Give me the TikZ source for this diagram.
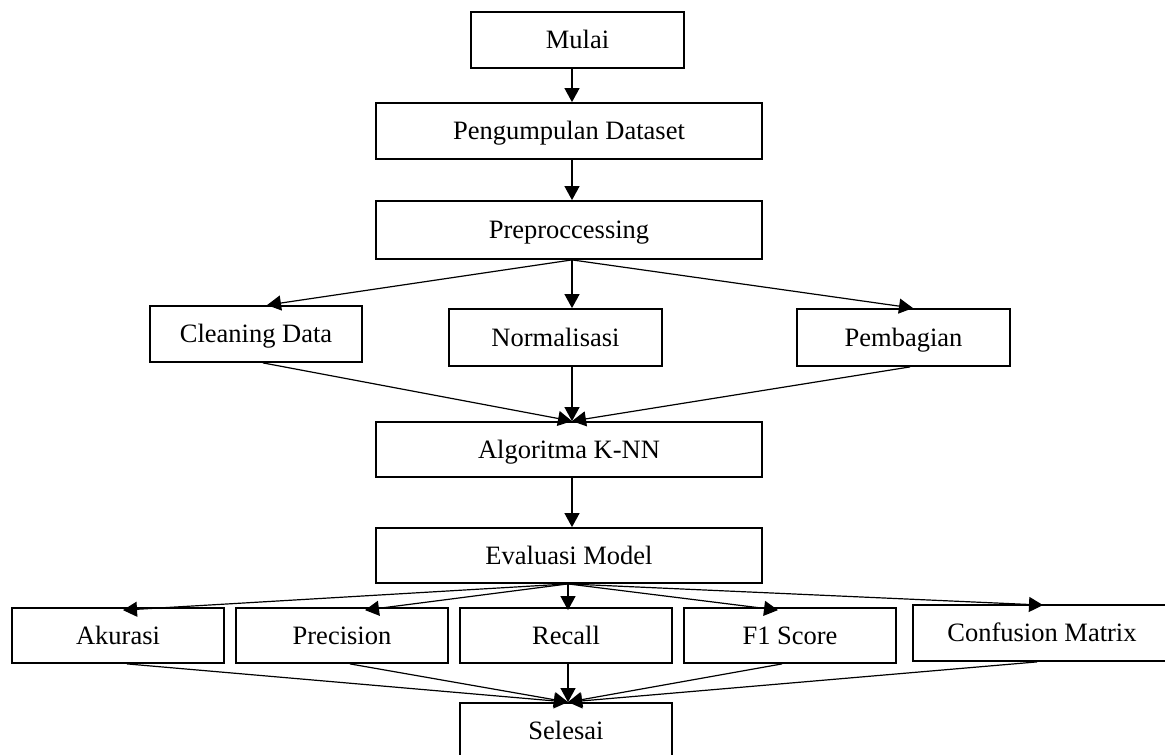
\documentclass[tikz,border=0pt]{standalone}
\usepackage{fontspec}
\setmainfont{Liberation Serif}
\usetikzlibrary{arrows.meta}
\begin{document}
\begin{tikzpicture}[x=1pt,y=-1pt,
  box/.style={draw,line width=1.8pt,rectangle,inner sep=0pt,text height=23pt,text depth=6pt,font=\fontsize{26.5}{31}\selectfont},
  arr/.style={line width=1.2pt,-{Triangle[length=14pt,width=15pt]}}]
\useasboundingbox (0,0) rectangle (1165,755);
\begin{scope}
\clip (0,0) rectangle (1165,755);
\node[box,minimum width=213pt,minimum height=56pt] (mulai) at (577.5,40) {Mulai};
\node[box,minimum width=386pt,minimum height=56pt] (peng) at (569,131) {Pengumpulan Dataset};
\node[box,minimum width=386pt,minimum height=58pt] (prep) at (569,230) {Preproccessing};
\node[box,minimum width=212pt,minimum height=56pt] (clean) at (256,334) {Cleaning Data};
\node[box,minimum width=213pt,minimum height=57pt] (norm) at (555.5,337.5) {Normalisasi};
\node[box,minimum width=213pt,minimum height=57pt] (pemb) at (903.5,337.5) {Pembagian};
\node[box,minimum width=386pt,minimum height=55pt] (algo) at (569,449.5) {Algoritma K-NN};
\node[box,minimum width=386pt,minimum height=55pt] (eval) at (569,555.5) {Evaluasi Model};
\node[box,minimum width=212pt,minimum height=55pt] (akur) at (118,635.5) {Akurasi};
\node[box,minimum width=212pt,minimum height=55pt] (prec) at (342,635.5) {Precision};
\node[box,minimum width=212pt,minimum height=55pt] (rec) at (566,635.5) {Recall};
\node[box,minimum width=212pt,minimum height=55pt] (f1) at (790,635.5) {F1 Score};
\node[box,minimum width=258pt,minimum height=56pt] (conf) at (1042,633) {Confusion Matrix};
\node[box,minimum width=212pt,minimum height=56pt] (sel) at (566,731) {Selesai};

\draw[arr] ([xshift=-5.5pt]mulai.south) -- ([xshift=3pt]peng.north);
\draw[arr] ([xshift=3pt]peng.south) -- ([xshift=3pt]prep.north);
\draw[arr] ([xshift=3pt]prep.south) -- ([xshift=11pt]clean.north);
\draw[arr] ([xshift=3pt]prep.south) -- ([xshift=16.5pt]norm.north);
\draw[arr] ([xshift=3pt]prep.south) -- ([xshift=9.5pt]pemb.north);
\draw[arr] ([xshift=7pt]clean.south) -- ([xshift=3pt]algo.north);
\draw[arr] ([xshift=16.5pt]norm.south) -- ([xshift=3pt]algo.north);
\draw[arr] ([xshift=6.5pt]pemb.south) -- ([xshift=3pt]algo.north);
\draw[arr] ([xshift=3pt]algo.south) -- ([xshift=3pt]eval.north);
\draw[arr] ([xshift=-1pt]eval.south) -- ([xshift=5pt,yshift=-3pt]akur.north);
\draw[arr] ([xshift=-1pt]eval.south) -- ([xshift=23pt,yshift=-3pt]prec.north);
\draw[arr] ([xshift=-1pt]eval.south) -- ([xshift=2pt,yshift=-3pt]rec.north);
\draw[arr] ([xshift=-1pt]eval.south) -- ([xshift=-12pt,yshift=-3pt]f1.north);
\draw[arr] ([xshift=-1pt]eval.south) -- ([xshift=1pt,yshift=-1pt]conf.north);
\draw[arr] ([xshift=9pt]akur.south) -- ([xshift=2pt]sel.north);
\draw[arr] ([xshift=8pt]prec.south) -- ([xshift=2pt]sel.north);
\draw[arr] ([xshift=2pt]rec.south) -- ([xshift=2pt]sel.north);
\draw[arr] ([xshift=-8pt]f1.south) -- ([xshift=2pt]sel.north);
\draw[arr] ([xshift=-5pt]conf.south) -- ([xshift=2pt]sel.north);
\end{scope}
\end{tikzpicture}
\end{document}
